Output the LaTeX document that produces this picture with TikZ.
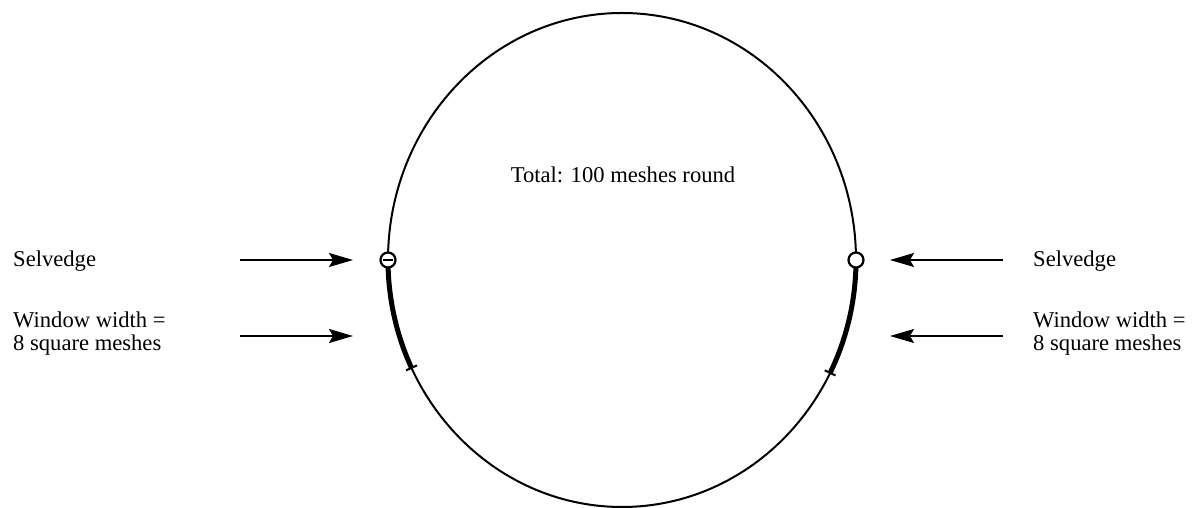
\documentclass[tikz,border=0pt]{standalone}
\usepackage{fontspec}
\setmainfont{Liberation Serif}
\usetikzlibrary{arrows.meta,calc}
\begin{document}
\begin{tikzpicture}[x=1pt,y=1pt,
  lbl/.style={font=\fontsize{22.6}{23}\selectfont, inner sep=0pt},
  pointer/.style={line width=1.2pt, -{Stealth[length=24pt,width=14pt,inset=4pt]}},
  ring/.style={circle, draw, fill=white, line width=2.2pt, minimum size=15pt, inner sep=0pt},
  rim/.style={line width=2pt},
  window/.style={line width=5pt},
]
\useasboundingbox (0,0) rectangle (1197,508);
\coordinate (c) at (622,248);
% outline of the round
\draw[rim] (c) ellipse[x radius=234pt, y radius=247pt];
% window arcs
\coordinate (lstart) at ($(c)+(180:234pt and 247pt)$);
\coordinate (rstart) at ($(c)+(0:234pt and 247pt)$);
\coordinate (ltick) at ($(c)+(205.9:234pt and 247pt)$);
\coordinate (rtick) at ($(c)+(-27.2:234pt and 247pt)$);
\draw[window] (lstart) arc[start angle=180, end angle=205.9, x radius=234pt, y radius=247pt];
\draw[window] (rstart) arc[start angle=0, end angle=-27.2, x radius=234pt, y radius=247pt];
\draw[rim] ([shift={(-5.5pt,-2.5pt)}]ltick) -- ([shift={(5.5pt,2.5pt)}]ltick);
\draw[rim] ([shift={(-5.4pt,2.6pt)}]rtick) -- ([shift={(5.4pt,-2.6pt)}]rtick);
% selvedge rings
\node[ring] (lring) at (lstart) {};
\node[ring] (rring) at (rstart) {};
\draw[line width=2pt] ([xshift=-5pt]lring.center) -- ([xshift=5pt]lring.center);
% labels
\node[lbl, anchor=base] (total) at (623,325) {Total: 100 meshes round};
\node[lbl, anchor=base west] (lsel) at (13,241) {Selvedge};
\node[lbl, anchor=base west, align=left] (lwin) at (13,157) {Window width =\\8 square meshes};
\node[lbl, anchor=base west] (rsel) at (1033,241) {Selvedge};
\node[lbl, anchor=base west, align=left] (rwin) at (1033,157) {Window width =\\8 square meshes};
% arrows
\coordinate (la1) at (240,248); \coordinate (lt1) at (353,248);
\coordinate (la2) at (240,172); \coordinate (lt2) at (353,172);
\coordinate (ra1) at (1003,248); \coordinate (rt1) at (890,248);
\coordinate (ra2) at (1003,172); \coordinate (rt2) at (890,172);
\draw[pointer] (la1) -- (lt1);
\draw[pointer] (la2) -- (lt2);
\draw[pointer] (ra1) -- (rt1);
\draw[pointer] (ra2) -- (rt2);
\end{tikzpicture}
\end{document}
